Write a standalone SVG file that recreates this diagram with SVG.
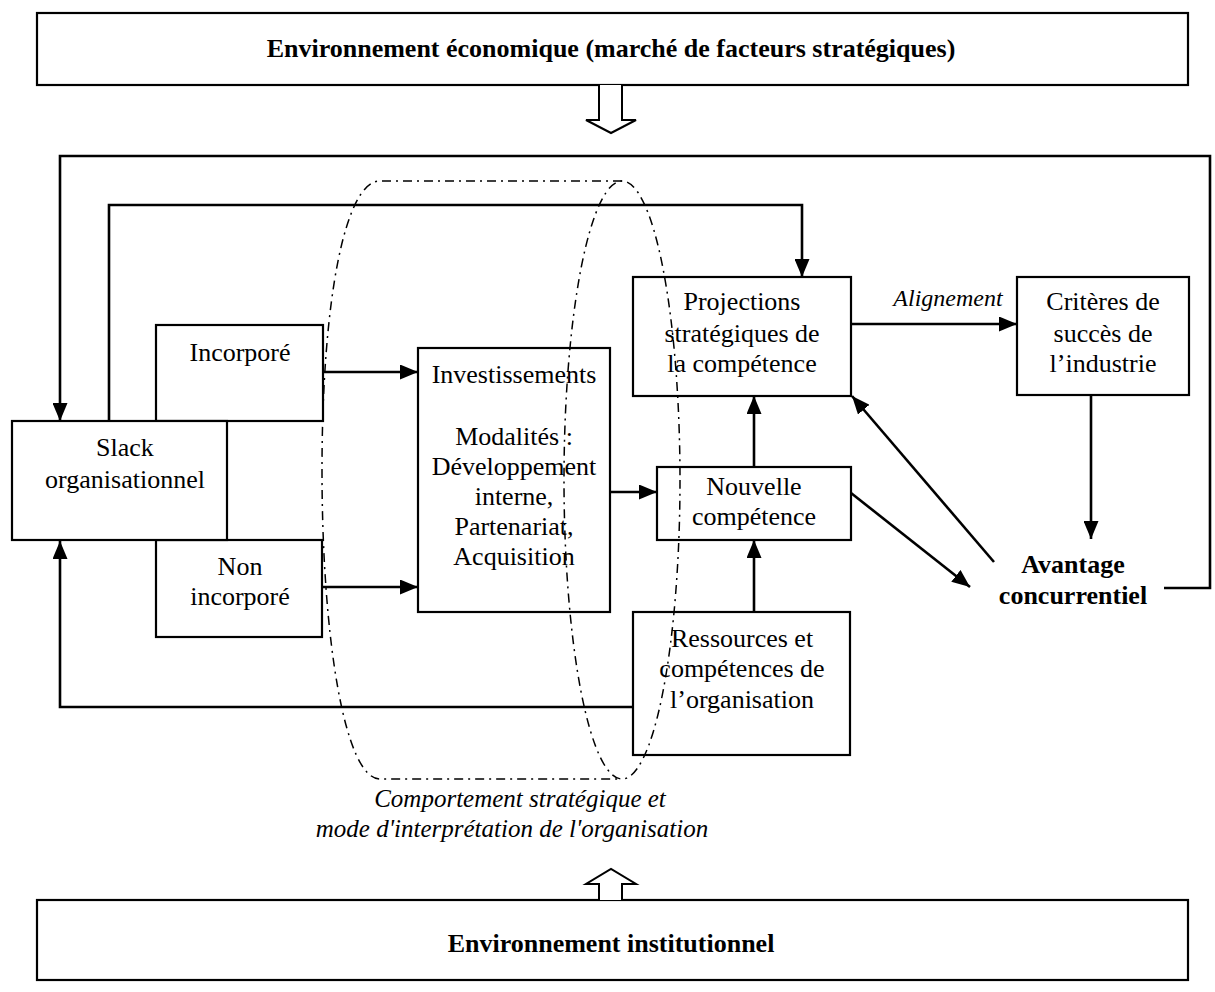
<svg xmlns="http://www.w3.org/2000/svg" width="1215" height="992" viewBox="0 0 1215 992">
  <defs>
    <marker id="arrow" viewBox="0 0 18 15" refX="18" refY="7.5" markerWidth="18" markerHeight="15" markerUnits="userSpaceOnUse" orient="auto">
      <path d="M0,0 L18,7.5 L0,15 Z" fill="#000"/>
    </marker>
    <style>
      .box { fill: #fff; stroke: #000; stroke-width: 2.2; }
      .edge { fill: none; stroke: #000; stroke-width: 2.6; }
      .arr { marker-end: url(#arrow); }
      .hollow { fill: #fff; stroke: #000; stroke-width: 2; stroke-linejoin: miter; }
      .halo { fill: none; stroke: #000; stroke-width: 1.5; stroke-dasharray: 9 5 2 5; }
      text { font-family: "Liberation Serif", "Times New Roman", serif; font-size: 26px; fill: #000; text-anchor: middle; }
      .b { font-weight: bold; }
      .i { font-style: italic; font-size: 24px; }
      .cap { font-style: italic; font-size: 25px; }
    </style>
  </defs>

  <rect width="1215" height="992" fill="#fff"/>

  <!-- Outer environments -->
  <g id="env-eco">
    <rect class="box" x="37" y="13" width="1151" height="72"/>
    <text class="b" x="611" y="57">Environnement économique (marché de facteurs stratégiques)</text>
  </g>
  <g id="env-inst">
    <rect class="box" x="37" y="900" width="1151" height="80"/>
    <text class="b" x="611" y="952">Environnement institutionnel</text>
  </g>

  <!-- Connectors -->
  <g id="connectors">
    <!-- hollow block arrows from/to environments -->
    <path class="hollow" d="M599,85 L599,120 L586,120 L611,133 L636,120 L622,120 L622,85"/>
    <path class="hollow" d="M599,900 L599,884 L586,884 L611,869 L636,884 L622,884 L622,900"/>

    <!-- feedback loop: competitive advantage back to slack -->
    <polyline class="edge arr" points="1164,588 1210,588 1210,156 60,156 60,421"/>
    <!-- slack feeding strategic projections -->
    <polyline class="edge arr" points="109,421 109,205 802,205 802,277"/>
    <!-- slack to investments -->
    <line class="edge arr" x1="323" y1="372" x2="418" y2="372"/>
    <line class="edge arr" x1="322" y1="587" x2="418" y2="587"/>
    <!-- investments to new competence -->
    <line class="edge arr" x1="610" y1="492" x2="657" y2="492"/>
    <!-- vertical flows -->
    <line class="edge arr" x1="754" y1="467" x2="754" y2="396"/>
    <line class="edge arr" x1="754" y1="612" x2="754" y2="540"/>
    <!-- alignment -->
    <line class="edge arr" x1="851" y1="324" x2="1017" y2="324"/>
    <text class="i" x="948" y="306">Alignement</text>
    <!-- industry criteria to advantage -->
    <line class="edge arr" x1="1091" y1="395" x2="1091" y2="539"/>
    <!-- diagonals around competitive advantage -->
    <line class="edge arr" x1="851" y1="493" x2="970" y2="587"/>
    <line class="edge arr" x1="994" y1="562" x2="852" y2="396"/>
    <!-- resources back to slack -->
    <polyline class="edge arr" points="633,707 60,707 60,541"/>
  </g>

  <!-- Nodes -->
  <g id="incorpore">
    <rect class="box" x="156" y="325" width="167" height="96"/>
    <text x="240" y="361">Incorporé</text>
  </g>
  <g id="non-incorpore">
    <rect class="box" x="156" y="540" width="166" height="97"/>
    <text x="240" y="575">Non</text>
    <text x="240" y="605">incorporé</text>
  </g>
  <g id="slack">
    <line class="box" x1="227" y1="421" x2="323" y2="421"/>
    <rect class="box" x="12" y="421" width="215" height="119"/>
    <text x="125" y="456">Slack</text>
    <text x="125" y="488">organisationnel</text>
  </g>
  <g id="investissements">
    <rect class="box" x="418" y="348" width="192" height="264"/>
    <text x="514" y="383">Investissements</text>
    <text x="514" y="445">Modalités :</text>
    <text x="514" y="475">Développement</text>
    <text x="514" y="505">interne,</text>
    <text x="514" y="535">Partenariat,</text>
    <text x="514" y="565">Acquisition</text>
  </g>
  <g id="projections">
    <rect class="box" x="633" y="277" width="218" height="119"/>
    <text x="742" y="310">Projections</text>
    <text x="742" y="342">stratégiques de</text>
    <text x="742" y="372">la compétence</text>
  </g>
  <g id="criteres">
    <rect class="box" x="1017" y="277" width="172" height="118"/>
    <text x="1103" y="310">Critères de</text>
    <text x="1103" y="342">succès de</text>
    <text x="1103" y="372">l’industrie</text>
  </g>
  <g id="nouvelle">
    <rect class="box" x="657" y="467" width="194" height="73"/>
    <text x="754" y="495">Nouvelle</text>
    <text x="754" y="525">compétence</text>
  </g>
  <g id="ressources">
    <rect class="box" x="633" y="612" width="217" height="143"/>
    <text x="742" y="647">Ressources et</text>
    <text x="742" y="677">compétences de</text>
    <text x="742" y="708">l’organisation</text>
  </g>
  <g id="avantage">
    <text class="b" x="1073" y="573">Avantage</text>
    <text class="b" x="1073" y="604">concurrentiel</text>
  </g>

  <!-- Strategic behaviour envelope (dash-dot cylinder) -->
  <g id="comportement">
    <path class="halo" d="M622,181 L380,181 C345,181 322,300 322,470 C322,640 345,779 380,779 L622,779"/>
    <ellipse class="halo" cx="622" cy="480" rx="58" ry="299"/>
    <text class="cap" x="520" y="807">Comportement stratégique et</text>
    <text class="cap" x="512" y="837">mode d'interprétation de l'organisation</text>
  </g>
</svg>
